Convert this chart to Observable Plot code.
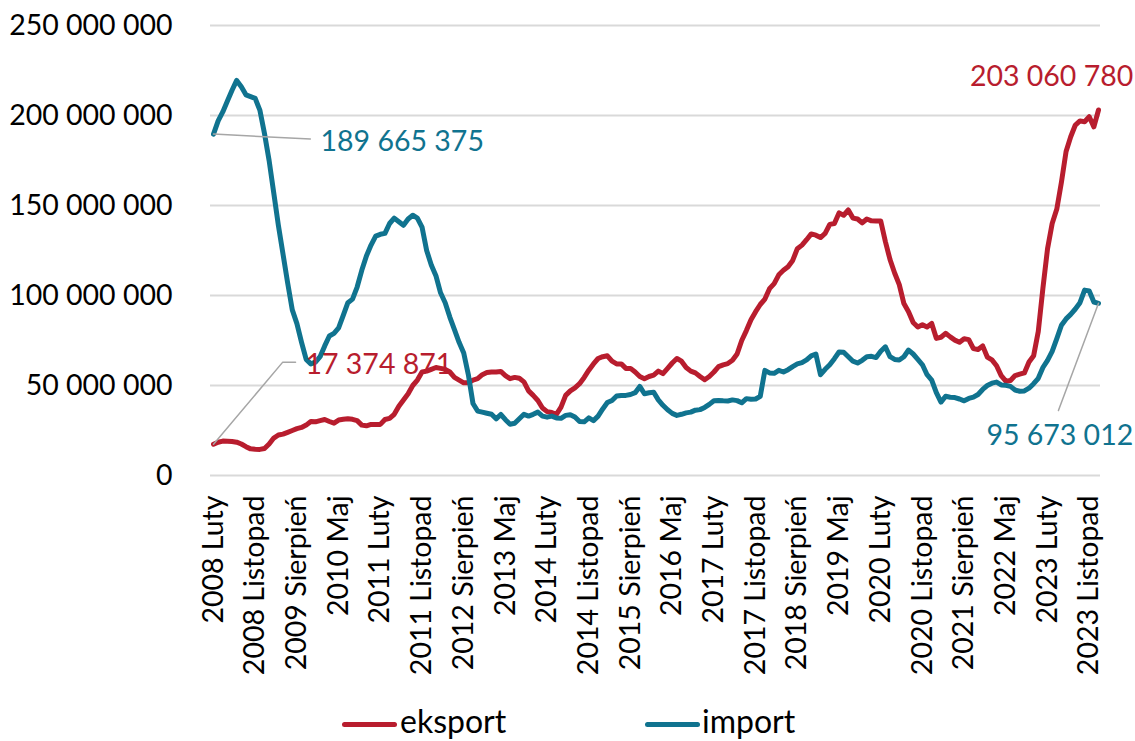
<!DOCTYPE html>
<html><head><meta charset="utf-8">
<script src="https://cdn.jsdelivr.net/npm/d3@7"></script>
<script src="https://cdn.jsdelivr.net/npm/@observablehq/plot@0.6"></script>
<style>
body{margin:0;background:#fff;overflow:hidden}
#wrap{position:relative;width:1135px;height:741px;font-family:Lato,"Open Sans",sans-serif;background:#fff}
#wrap svg{position:absolute;left:0;top:0}
.sw{position:absolute;height:5px;border-radius:3px}
.lt{position:absolute;font-size:32px;line-height:32px;color:#000;white-space:nowrap}
</style></head><body><div id="wrap"></div>
<script>
// Monthly values (millions), 2008 Luty .. 2024 Styczeń
const importValues = [
189.665375,197,202,208,214,219.5,216,211.5,210.5,209.5,
203,190,175,157,139,123,107,92,84.4,74,
64.5,62,63,66,72,77.5,79,82,89,96,
98,104.7,114,122,128,133,134,134.5,140,143,
141,139,142.5,144.6,143,138,125,117,111,101.5,
96,88,81,74,68,56,40,35.8,35.2,34.6,
34,31.5,33.9,31,28.5,29,31.5,34,33,34,
35.2,33,32.4,33,32,31.8,33.4,33.8,32.5,30,
29.8,32,30.5,33,37,40.5,41.7,44.2,44.5,44.5,
45,46,49.5,45.4,46,46.3,42,39,36.5,34.5,
33.4,34,34.8,35.2,36.3,36.6,37.8,39.5,41.5,41.7,
41.5,41.4,42,41.6,40.4,42.7,42.4,42.5,44,58.4,
57,56.8,58.4,57.5,58.8,60.5,62,62.7,64.2,66.5,
67.5,56,59,61.5,64.9,68.6,68.5,66,63.5,62.5,
64,66,66.2,65.5,69,71.5,66,64.5,64.2,66,
69.7,67.5,64.5,61.5,56,53,46,40.8,44,43.5,
43.3,42.5,41.5,42.8,43.5,45,47.8,50,51.3,51.9,
50.3,50.1,49.5,47.5,46.8,47,48.5,51,54,60,
64,69,76,83.5,87,89.5,92.5,96,103,102.5,
96.4,95.673012
];
const exportValues = [
17.374871,18.5,19.1,19,18.9,18.5,17.5,16,14.8,14.6,
14.5,15,17.5,20.8,22.5,23,24,25,26,26.7,
28,30,29.8,30.5,31.1,30,29.1,30.8,31.2,31.5,
31.2,30.5,28,27.6,28.4,28.4,28.4,31.1,31.7,34,
38.5,42,45.4,50,53,57.5,58,59,60,59.5,
59,57.5,54.5,53,51.5,51.5,53,53.8,56,57.2,
57.5,57.5,57.8,55.5,53.8,54.5,54,52,47,44.5,
41.7,37.5,35.5,35,34,38,44.5,47,48.7,51,
54.5,58.5,62,65,66,66.5,63.5,62,62,59.5,
59.5,57.5,55,53.8,55,55.8,58,56.6,59.5,62.5,
65,63.5,60,58,57,55,53.2,55,57.5,60.5,
61.5,62.2,64,67.5,75,80.5,86.5,91,95,98,
103.8,106.6,111.5,114,116,119.5,126,128,131,134.2,
133.5,132.2,134.5,139.5,140,145.9,144.6,147.5,143,142.5,
140.3,142.5,141.5,141.4,141.4,130,120,112.5,106,95.5,
91,85,82.5,83.8,82.5,84.5,76.2,76.8,79,77,
75.2,74,76,75.5,70.5,70,72,65.8,64.2,61,
55.5,52.4,52.8,55.5,56.3,57,63,66.5,80,104,
126,140,148,163,180,188.2,194.7,197,196.5,199.3,
193.7,203.06078
];
const seriesNames = ["eksport", "import"];
const seriesColors = ["#B81D2E", "#10738F"];
const tickIndex = [0,9,18,27,36,45,54,63,72,81,90,99,108,117,126,135,144,153,162,171,180,189];
const tickLabels = ["2008 Luty","2008 Listopad","2009 Sierpień","2010 Maj","2011 Luty","2011 Listopad",
  "2012 Sierpień","2013 Maj","2014 Luty","2014 Listopad","2015 Sierpień","2016 Maj","2017 Luty",
  "2017 Listopad","2018 Sierpień","2019 Maj","2020 Luty","2020 Listopad","2021 Sierpień","2022 Maj",
  "2023 Luty","2023 Listopad"];
const yTicks = [0, 50e6, 100e6, 150e6, 200e6, 250e6];

const fmt = v => d3.format(",")(Math.round(v)).replace(/,/g, " ");
const toRows = (vals, s) => vals.map((v, i) => ({i, value: Math.round(v * 1e6), series: s}));
const exportRows = toRows(exportValues, seriesNames[0]);
const importRows = toRows(importValues, seriesNames[1]);
const lastI = importValues.length - 1;
const iFirst = importRows[0], eFirst = exportRows[0], eLast = exportRows[lastI], iLast = importRows[lastI];

// annotation label anchors (index, value) and leader lines
const annotations = [
  {row: iFirst, color: seriesColors[1], tx: 23.1, ty: 185.5e6, anchor: "start", leader: [[0, iFirst.value], [20.9, 186.9e6]]},
  {row: eFirst, color: seriesColors[0], tx: 19.85, ty: 61.6e6, anchor: "start", leader: [[0, eFirst.value], [14.9, 62.85e6], [17.7, 62.85e6]]},
  {row: eLast, color: seriesColors[0], tx: 198.5, ty: 221.4e6, anchor: "end", leader: null},
  {row: iLast, color: seriesColors[1], tx: 166.8, ty: 22.0e6, anchor: "start", leader: [[lastI, iLast.value], [182.35, 36.15e6]]}
];
const leaderRows = annotations.flatMap((a, k) => a.leader ? a.leader.map(([x, y]) => ({k, x, y})) : []);

const FS = 28.5;
const wrap = document.getElementById("wrap");
const chart = Plot.plot({
  width: 1135, height: 700,
  marginLeft: 210, marginRight: 35, marginTop: 25, marginBottom: 225,
  x: {domain: [-0.65, 191.43], axis: null},
  y: {domain: [0, 250e6], axis: null},
  style: {fontFamily: "Lato, 'Open Sans', sans-serif", background: "white", overflow: "visible"},
  marks: [
    Plot.ruleY(yTicks, {stroke: "#d9d9d9", strokeWidth: 2}),
    Plot.axisY(yTicks, {tickSize: 0, tickPadding: 38, fontSize: FS, tickFormat: fmt, fill: "#000", label: null}),
    Plot.text(tickIndex, {x: d => d, text: (d, i) => tickLabels[i], frameAnchor: "bottom", rotate: -90,
      textAnchor: "end", lineAnchor: "middle", dy: 20, fontSize: FS, fill: "#000"}),
    Plot.line(exportRows, {x: "i", y: "value", stroke: seriesColors[0], strokeWidth: 5, strokeLinejoin: "round", strokeLinecap: "round"}),
    Plot.line(importRows, {x: "i", y: "value", stroke: seriesColors[1], strokeWidth: 5, strokeLinejoin: "round", strokeLinecap: "round"}),
    Plot.line(leaderRows, {x: "x", y: "y", z: "k", stroke: "#a6a6a6", strokeWidth: 1.5}),
    Plot.text(annotations.filter(a => a.anchor === "start"), {x: "tx", y: "ty", text: a => fmt(a.row.value), fill: a => a.color,
      textAnchor: "start", fontSize: FS, lineAnchor: "middle"}),
    Plot.text(annotations.filter(a => a.anchor === "end"), {x: "tx", y: "ty", text: a => fmt(a.row.value), fill: a => a.color,
      textAnchor: "end", fontSize: FS, lineAnchor: "middle"})
  ]
});
wrap.appendChild(chart);

const legend = [
  {name: seriesNames[0], color: seriesColors[0], lineLeft: 342, textLeft: 400},
  {name: seriesNames[1], color: seriesColors[1], lineLeft: 645, textLeft: 702}
];
for (const l of legend) {
  const sw = document.createElement("div");
  sw.className = "sw"; sw.style.left = l.lineLeft + "px"; sw.style.top = "722px";
  sw.style.width = "55px"; sw.style.background = l.color;
  wrap.appendChild(sw);
  const t = document.createElement("div");
  t.className = "lt"; t.style.left = l.textLeft + "px"; t.style.top = "705px";
  t.textContent = l.name;
  wrap.appendChild(t);
}
</script>
</body></html>
